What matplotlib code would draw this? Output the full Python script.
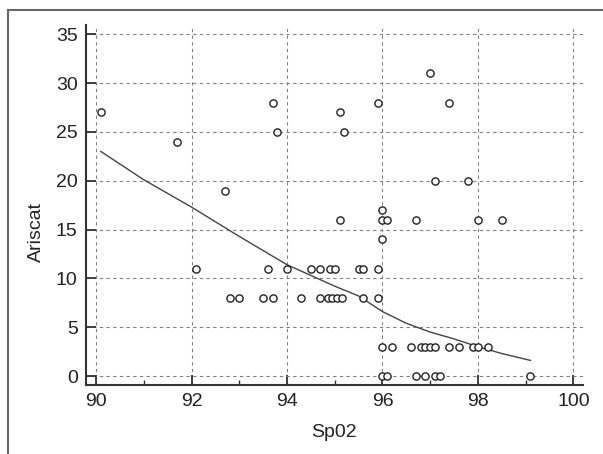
import matplotlib
matplotlib.use("Agg")
import matplotlib.pyplot as plt
from matplotlib.ticker import MultipleLocator
from matplotlib.patches import Rectangle

# Scatter data (SpO2 vs Ariscat)
sp02 = [90.1, 91.7, 92.1, 92.7, 92.8, 93.0, 93.5, 93.6, 93.7, 93.7, 93.8,
        94.0, 94.3, 94.5, 94.7, 94.7, 94.9, 95.0, 94.85, 94.95, 95.05, 95.15,
        95.1, 95.1, 95.2, 95.5, 95.6, 95.6, 95.9, 95.9, 95.9,
        96.0, 96.0, 96.1, 96.0, 96.0, 96.2, 96.0, 96.1,
        96.7, 96.6, 96.8, 96.9, 97.0, 97.1,
        97.0, 97.1, 97.4, 96.7, 96.9, 97.1, 97.2,
        97.4, 97.6, 97.8, 97.9, 98.0, 98.2, 98.0, 98.5, 99.1]
ariscat = [27, 24, 11, 19, 8, 8, 8, 11, 8, 28, 25,
           11, 8, 11, 11, 8, 11, 11, 8, 8, 8, 8,
           27, 16, 25, 11, 11, 8, 28, 11, 8,
           17, 16, 16, 14, 3, 3, 0, 0,
           16, 3, 3, 3, 3, 3,
           31, 20, 28, 0, 0, 0, 0,
           3, 3, 20, 3, 3, 3, 16, 16, 0]

# Smoothed trend curve
fit_x = [90.1, 91.0, 92.0, 93.0, 94.0, 94.5, 95.0, 95.5, 96.0, 96.5, 97.0, 97.5, 98.0, 98.5, 99.1]
fit_y = [23.0, 20.1, 17.3, 14.3, 11.4, 10.3, 9.2, 8.2, 6.6, 5.4, 4.5, 3.8, 3.0, 2.3, 1.6]

xticks = [90, 92, 94, 96, 98, 100]
yticks = [0, 5, 10, 15, 20, 25, 30, 35]

plt.rcParams['font.family'] = ['Liberation Sans', 'DejaVu Sans']

fig = plt.figure(figsize=(6.03, 4.54), dpi=100)
fig.patch.set_facecolor('white')
# outer frame (top and left visible)
fig.patches.append(Rectangle((8/603, -0.1), 1.2, 1.1 - 10/454, transform=fig.transFigure,
                             fill=False, edgecolor='#666666', linewidth=1.5))

ax = fig.add_axes([86/603, 1-385/454, 497/603, 360/454])
ax.set_xlim(89.79, 100.2)
ax.set_ylim(-0.92, 35.95)

ax.grid(True, which='major', color='#808080', linestyle=(0, (3, 3)), linewidth=0.8)
ax.set_axisbelow(True)

ax.plot(fit_x, fit_y, color='#444444', linewidth=1.0, zorder=3)
ax.plot(sp02, ariscat, linestyle='none', marker='o', markersize=5.2,
        markerfacecolor='white', markeredgecolor='#222222', markeredgewidth=1.0, zorder=4)

ax.set_xticks(xticks)
ax.set_yticks(yticks)
ax.xaxis.set_minor_locator(MultipleLocator(1))
ax.tick_params(axis='both', which='major', direction='in', length=7, width=1.3,
               color='#333333', labelsize=14, labelcolor='#222222')
ax.tick_params(axis='x', which='major', pad=6)
ax.tick_params(axis='y', which='major', pad=6)
ax.tick_params(axis='x', which='minor', direction='in', length=3.5, width=1.0, color='#333333')
ax.tick_params(axis='y', which='minor', left=False)

for s in ['top', 'right']:
    ax.spines[s].set_visible(False)
for s in ['left', 'bottom']:
    ax.spines[s].set_color('#333333')
    ax.spines[s].set_linewidth(1.5)

ax.set_xlabel('Sp02', fontsize=14, color='#222222')
ax.xaxis.set_label_coords((334 - 86) / 497, (385 - 424) / 360)
ax.set_ylabel('Ariscat', fontsize=14, color='#222222')
ax.yaxis.set_label_coords((45 - 86) / 497, (385 - 232) / 360)

fig.savefig('out.png', dpi=100, facecolor='white')
